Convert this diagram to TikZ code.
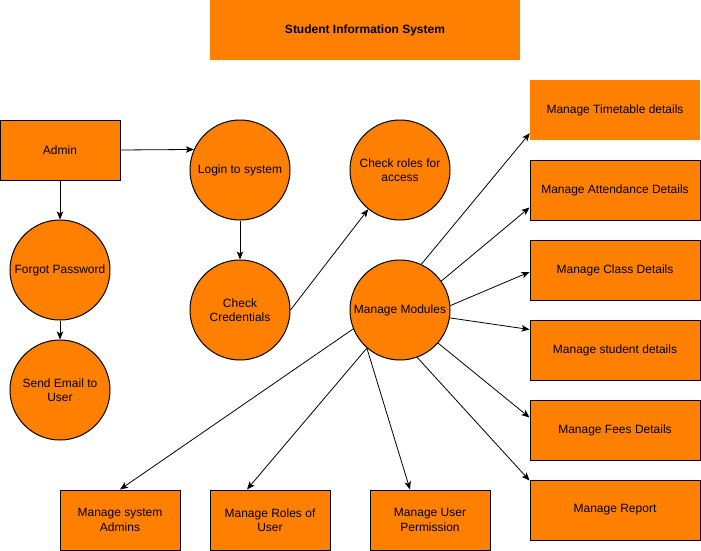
\documentclass[tikz,border=0pt]{standalone}
\usepackage{fontspec}
\setmainfont{Liberation Sans}
\usetikzlibrary{arrows.meta,calc}
\definecolor{org}{HTML}{FF8000}
\begin{document}
\begin{tikzpicture}[x=1pt,y=-1pt,
  font=\fontsize{12}{14.5}\selectfont,
  box/.style={draw=black, fill=org, line width=1pt, minimum width=120pt, minimum height=60pt, inner sep=0pt, align=center},
  wbox/.style={box, minimum width=170pt},
  nobox/.style={fill=org, draw=none, minimum height=60pt, inner sep=0pt, align=center},
  circ/.style={circle, draw=black, fill=org, line width=1pt, minimum size=100pt, inner sep=0pt, align=center},
  arr/.style={-{Stealth[length=8pt,width=6.5pt,inset=2pt]}, line width=0.8pt}]
\useasboundingbox (0,0) rectangle (701,551);
\fill[white] (0,0) rectangle (701,551);
% nodes
\node[nobox, minimum width=310pt, font=\fontsize{12}{14.5}\selectfont\bfseries] (title) at (365,30) {Student Information System};
\node[box] (admin) at (60,150) {Admin};
\node[circ] (login) at (240,170) {Login to system};
\node[circ] (roles) at (400,170) {Check roles for\\access};
\node[circ] (forgot) at (60,270) {Forgot Password};
\node[circ] (email) at (60,390) {Send Email to\\User};
\node[circ] (cred) at (240,310) {Check\\Credentials};
\node[circ] (mm) at (400,310) {Manage Modules};
\node[nobox, minimum width=170pt] (tt) at (615,110) {Manage Timetable details};
\node[wbox] (att) at (615,190) {Manage Attendance Details};
\node[wbox] (cls) at (615,270) {Manage Class Details};
\node[wbox] (stu) at (615,350) {Manage student details};
\node[wbox] (fee) at (615,430) {Manage Fees Details};
\node[wbox] (rep) at (615,510) {Manage Report};
\node[box] (sysad) at (120,520) {Manage system\\Admins};
\node[box] (rol) at (270,520) {Manage Roles of\\User};
\node[box] (perm) at (430,520) {Manage User\\Permission};
% edges
\draw[arr] (admin.east) -- (login.156);
\draw[arr] (admin.south) -- (forgot.north);
\draw[arr] (forgot.south) -- (email.north);
\draw[arr] (login.south) -- (cred.north);
\draw[arr] (cred.east) -- (roles.231);
\draw[arr] (mm.65) -- ([yshift=7pt]tt.south west);
\draw[arr] (mm.35) -- ([yshift=13pt]att.south west);
\draw[arr] (mm.5) -- ([yshift=-2pt]cls.west);
\draw[arr] (mm.-9) -- ([yshift=-10pt]stu.north west);
\draw[arr] (mm.-41) -- ([yshift=-18pt]fee.north west);
\draw[arr] (mm.-70) -- ([yshift=-1pt]rep.north west);
\draw[arr] (mm.229) -- ([xshift=-20pt]perm.north);
\draw[arr] (mm.229) -- ([xshift=-23pt]rol.north);
\draw[arr] (mm.202) -- (sysad.north);
\end{tikzpicture}
\end{document}
